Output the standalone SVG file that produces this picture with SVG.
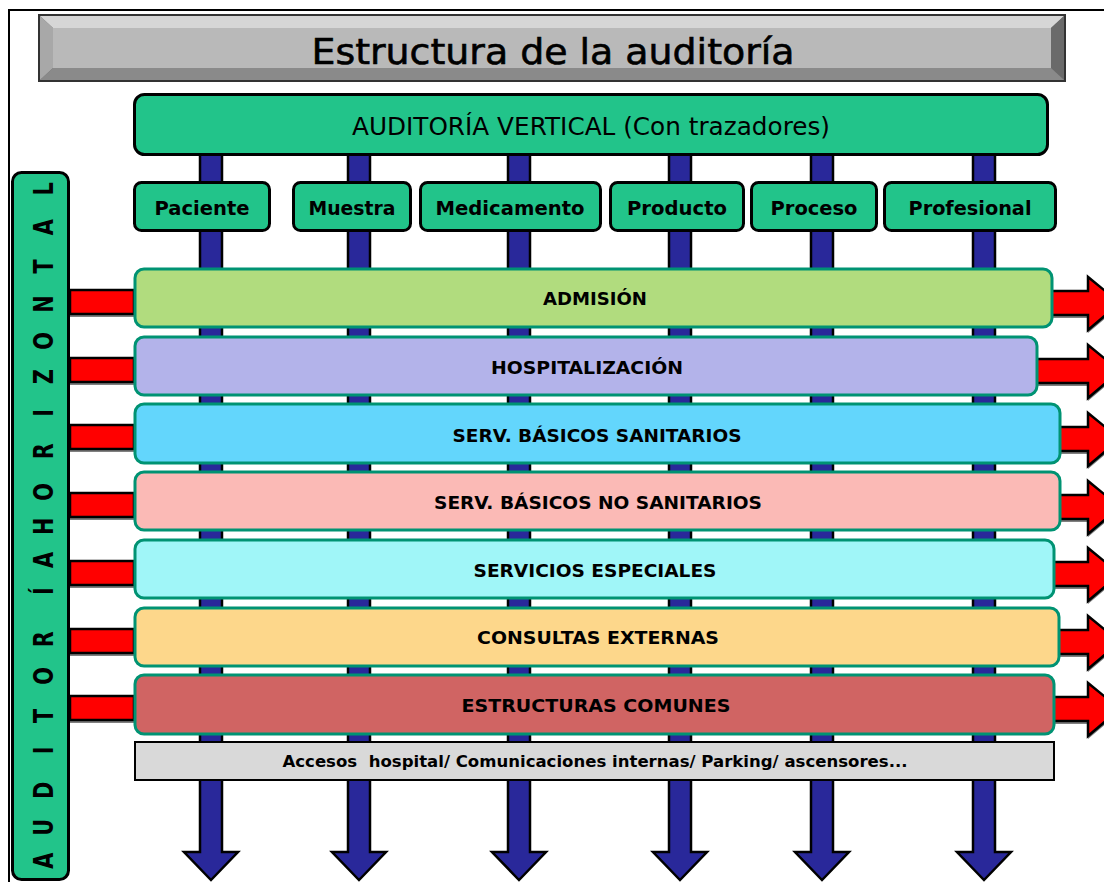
<svg xmlns="http://www.w3.org/2000/svg" width="1104" height="882" viewBox="0 0 1104 882">
<style>
text{font-family:"DejaVu Sans","Liberation Sans",sans-serif;fill:#000}
.g{fill:#22c48a;stroke:#000;stroke-width:3}
.row{stroke:#009373;stroke-width:3}
.rt{font-size:18px;font-weight:bold;text-anchor:middle}
.st{font-size:19px;font-weight:bold;text-anchor:middle}
.blue{fill:#29289a;stroke:#000;stroke-width:2.5}
.red{fill:#ff0000;stroke:#000;stroke-width:2.5}
.sh{fill:#808080}
</style>
<rect x="0" y="0" width="1104" height="882" fill="#fff"/>
<path d="M9 882V10H1104" fill="none" stroke="#000" stroke-width="2"/>
<g id="connectors">
<g id="vertical-arrows">
<path class="blue" d="M200 150V852H184L211 880L238 852H222V150Z"/>
<path class="blue" d="M348 150V852H332L359 880L386 852H370V150Z"/>
<path class="blue" d="M508 150V852H492L519 880L546 852H530V150Z"/>
<path class="blue" d="M669 150V852H653L680 880L707 852H691V150Z"/>
<path class="blue" d="M811 150V852H795L822 880L849 852H833V150Z"/>
<path class="blue" d="M973 150V852H957L984 880L1011 852H995V150Z"/>
</g>
<g id="left-arrows">
<rect class="sh" x="70" y="293" width="64" height="24"/><rect class="red" x="70" y="290" width="64" height="24"/>
<rect class="sh" x="70" y="361" width="64" height="24"/><rect class="red" x="70" y="358" width="64" height="24"/>
<rect class="sh" x="70" y="428" width="64" height="24"/><rect class="red" x="70" y="425" width="64" height="24"/>
<rect class="sh" x="70" y="496" width="64" height="24"/><rect class="red" x="70" y="493" width="64" height="24"/>
<rect class="sh" x="70" y="564" width="64" height="24"/><rect class="red" x="70" y="561" width="64" height="24"/>
<rect class="sh" x="70" y="632" width="64" height="24"/><rect class="red" x="70" y="629" width="64" height="24"/>
<rect class="sh" x="70" y="699" width="64" height="24"/><rect class="red" x="70" y="696" width="64" height="24"/>
</g>
<g id="right-arrows">
<path class="sh" d="M1030 294H1088V280L1120 306L1088 333V318H1030Z"/>
<path class="red" d="M1030 291H1088V277L1120 303L1088 330V315H1030Z"/>
<path class="sh" d="M1030 362H1088V348L1120 374L1088 401V386H1030Z"/>
<path class="red" d="M1030 359H1088V345L1120 371L1088 398V383H1030Z"/>
<path class="sh" d="M1030 430H1088V416L1120 442L1088 469V454H1030Z"/>
<path class="red" d="M1030 427H1088V413L1120 439L1088 466V451H1030Z"/>
<path class="sh" d="M1030 498H1088V484L1120 510L1088 537V522H1030Z"/>
<path class="red" d="M1030 495H1088V481L1120 507L1088 534V519H1030Z"/>
<path class="sh" d="M1030 565H1088V551L1120 577L1088 604V589H1030Z"/>
<path class="red" d="M1030 562H1088V548L1120 574L1088 601V586H1030Z"/>
<path class="sh" d="M1030 633H1088V619L1120 645L1088 672V657H1030Z"/>
<path class="red" d="M1030 630H1088V616L1120 642L1088 669V654H1030Z"/>
<path class="sh" d="M1030 700H1088V686L1120 712L1088 739V724H1030Z"/>
<path class="red" d="M1030 697H1088V683L1120 709L1088 736V721H1030Z"/>
</g>
</g>
<g id="title">
<rect x="39" y="15" width="1026" height="66" fill="#707070" stroke="#333" stroke-width="2"/>
<polygon points="40,16 1064,16 1051,28 53,28" fill="#d6d6d6"/>
<polygon points="40,16 53,28 53,68 40,80" fill="#a8a8a8"/>
<polygon points="1064,16 1051,28 1051,68 1064,80" fill="#6a6a6a"/>
<polygon points="40,80 53,68 1051,68 1064,80" fill="#8a8a8a"/>
<rect x="53" y="28" width="998" height="40" fill="#b9b9b9"/>
<text x="553" y="64" font-size="36" text-anchor="middle" stroke="#000" stroke-width="0.6" textLength="483" lengthAdjust="spacingAndGlyphs">Estructura de la auditoría</text>
</g>
<g id="vertical">
<rect class="g" x="134.5" y="94.5" width="913" height="60" rx="10"/>
<text x="591" y="135" font-size="25" text-anchor="middle" textLength="478" lengthAdjust="spacingAndGlyphs">AUDITORÍA VERTICAL (Con trazadores)</text>
</g>
<g id="paciente"><rect class="g" x="134.5" y="182.5" width="135" height="48" rx="7"/><text class="st" x="202" y="215" textLength="95" lengthAdjust="spacingAndGlyphs">Paciente</text></g>
<g id="muestra"><rect class="g" x="293.5" y="182.5" width="117" height="48" rx="7"/><text class="st" x="352" y="215" textLength="87" lengthAdjust="spacingAndGlyphs">Muestra</text></g>
<g id="medicamento"><rect class="g" x="420.5" y="182.5" width="180" height="48" rx="7"/><text class="st" x="510" y="215" textLength="149" lengthAdjust="spacingAndGlyphs">Medicamento</text></g>
<g id="producto"><rect class="g" x="610.5" y="182.5" width="133" height="48" rx="7"/><text class="st" x="677" y="215" textLength="100" lengthAdjust="spacingAndGlyphs">Producto</text></g>
<g id="proceso"><rect class="g" x="751.5" y="182.5" width="125" height="48" rx="7"/><text class="st" x="814" y="215" textLength="87" lengthAdjust="spacingAndGlyphs">Proceso</text></g>
<g id="profesional"><rect class="g" x="884.5" y="182.5" width="171" height="48" rx="7"/><text class="st" x="970" y="215" textLength="123" lengthAdjust="spacingAndGlyphs">Profesional</text></g>
<g id="admision"><rect class="row" fill="#b1dc7e" x="135" y="269" width="917" height="58" rx="9"/><text class="rt" x="595" y="305" textLength="104" lengthAdjust="spacingAndGlyphs">ADMISIÓN</text></g>
<g id="hospitalizacion"><rect class="row" fill="#b3b3ea" x="135" y="337" width="902" height="58" rx="9"/><text class="rt" x="587" y="374" textLength="192" lengthAdjust="spacingAndGlyphs">HOSPITALIZACIÓN</text></g>
<g id="sanitarios"><rect class="row" fill="#63d6fc" x="135" y="404" width="925" height="59" rx="9"/><text class="rt" x="597" y="442" textLength="289" lengthAdjust="spacingAndGlyphs">SERV. BÁSICOS SANITARIOS</text></g>
<g id="nosanitarios"><rect class="row" fill="#fbbab6" x="135" y="472" width="925" height="58" rx="9"/><text class="rt" x="598" y="509" textLength="328" lengthAdjust="spacingAndGlyphs">SERV. BÁSICOS NO SANITARIOS</text></g>
<g id="especiales"><rect class="row" fill="#a0f6f8" x="135" y="540" width="919" height="58" rx="9"/><text class="rt" x="595" y="577" textLength="243" lengthAdjust="spacingAndGlyphs">SERVICIOS ESPECIALES</text></g>
<g id="consultas"><rect class="row" fill="#fdd78b" x="135" y="608" width="924" height="58" rx="9"/><text class="rt" x="598" y="644" textLength="242" lengthAdjust="spacingAndGlyphs">CONSULTAS EXTERNAS</text></g>
<g id="estructuras"><rect class="row" fill="#d06463" x="135" y="675" width="919" height="59" rx="9"/><text class="rt" x="596" y="712" textLength="269" lengthAdjust="spacingAndGlyphs">ESTRUCTURAS COMUNES</text></g>
<g id="accesos"><rect x="135" y="742" width="919" height="38" fill="#d9d9d9" stroke="#000" stroke-width="2"/><text x="595" y="767" font-size="15" font-weight="bold" text-anchor="middle" textLength="625" lengthAdjust="spacingAndGlyphs">Accesos&#160; hospital/ Comunicaciones internas/ Parking/ ascensores...</text></g>
<g id="horizontal">
<rect class="g" x="12.5" y="172.5" width="56" height="707" rx="9"/>
<text transform="translate(53,0) rotate(-90) scale(0.8,1)" y="0" font-size="26" font-weight="bold" text-anchor="middle" x="-1076 -1034 -988 -938 -895 -845 -799 -739 -700 -679 -658 -615 -564 -516 -471 -426 -380 -333 -284 -236">AUDITORÍA HORIZONTAL</text>
</g>
</svg>
